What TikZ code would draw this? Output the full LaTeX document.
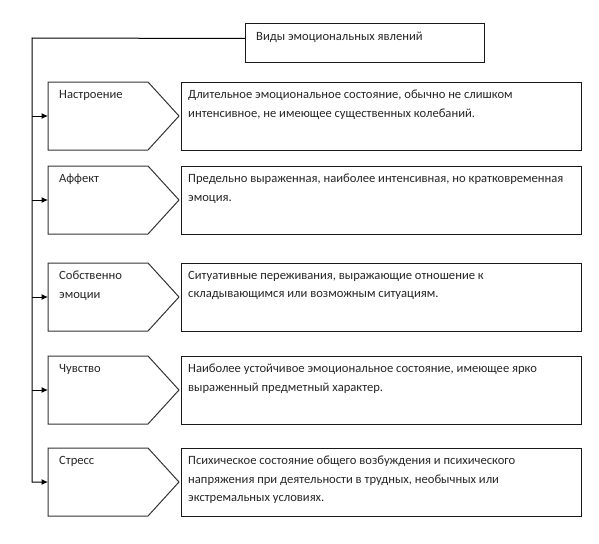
\documentclass[tikz,border=0pt]{standalone}
\usepackage{fontspec}
\setmainfont{Carlito}
\usetikzlibrary{shapes.symbols,arrows.meta,calc}
\tikzset{
  penta/.style={signal, signal to=east, signal pointer angle=95.3, draw=black!80, line width=1pt,
    minimum width=131pt, minimum height=68pt, inner sep=0pt, outer sep=0pt, anchor=north west},
  descbox/.style={rectangle, draw=black!90, line width=1pt, minimum width=400pt, minimum height=68pt,
    inner sep=0pt, outer sep=0pt, anchor=north west},
  txt/.style={anchor=north west, inner sep=0pt, align=left, text=black!85,
    font=\fontsize{12.6}{18.5}\selectfont},
  conn/.style={line width=1pt, draw=black},
  arr/.style={conn, -{Latex[length=6.5pt,width=6pt]}}
}
\begin{document}
\begin{tikzpicture}[x=1pt,y=-1pt]
\useasboundingbox (0,0) rectangle (599,543);
% title
\node[rectangle, draw=black!90, line width=1pt, minimum width=239pt, minimum height=39pt,
  inner sep=0pt, anchor=north west] (title) at (245,23) {};
\node[txt] (titletxt) at (256,32) {Виды эмоциональных явлений};
% rows
\node[penta] (p1) at (48,82) {};
\node[penta] (p2) at (48,166) {};
\node[penta] (p3) at (48,263) {};
\node[penta] (p4) at (48,356) {};
\node[penta] (p5) at (48,448) {};
\node[descbox] (r1) at (181,82) {};
\node[descbox] (r2) at (181,166) {};
\node[descbox] (r3) at (181,263) {};
\node[descbox] (r4) at (181,356) {};
\node[descbox] (r5) at (181,448) {};
% labels
\node[txt] (l1) at ($(p1.north west)+(11,8)$) {Настроение};
\node[txt] (l2) at ($(p2.north west)+(11,8)$) {Аффект};
\node[txt] (l3) at ($(p3.north west)+(11,8)$) {Собственно\\эмоции};
\node[txt] (l4) at ($(p4.north west)+(11,8)$) {Чувство};
\node[txt] (l5) at ($(p5.north west)+(11,8)$) {Стресс};
\node[txt] (d1) at ($(r1.north west)+(7,8)$) {Длительное эмоциональное состояние, обычно не слишком\\интенсивное, не имеющее существенных колебаний.};
\node[txt] (d2) at ($(r2.north west)+(7,8)$) {Предельно выраженная, наиболее интенсивная, но кратковременная\\эмоция.};
\node[txt] (d3) at ($(r3.north west)+(7,8)$) {Ситуативные переживания, выражающие отношение к\\складывающимся или возможным ситуациям.};
\node[txt] (d4) at ($(r4.north west)+(7,8)$) {Наиболее устойчивое эмоциональное состояние, имеющее ярко\\выраженный предметный характер.};
\node[txt] (d5) at ($(r5.north west)+(7,8)$) {Психическое состояние общего возбуждения и психического\\напряжения при деятельности в трудных, необычных или\\экстремальных условиях.};
% connectors
\coordinate (ttop) at (32,38);
\draw[arr] ([yshift=4.5pt]title.west) -- (ttop) -- (ttop |- p5.west) -- (p5.west);
\draw[arr] (ttop |- p1.west) -- (p1.west);
\draw[arr] (ttop |- p2.west) -- (p2.west);
\draw[arr] (ttop |- p3.west) -- (p3.west);
\draw[arr] (ttop |- p4.west) -- (p4.west);
\end{tikzpicture}
\end{document}
